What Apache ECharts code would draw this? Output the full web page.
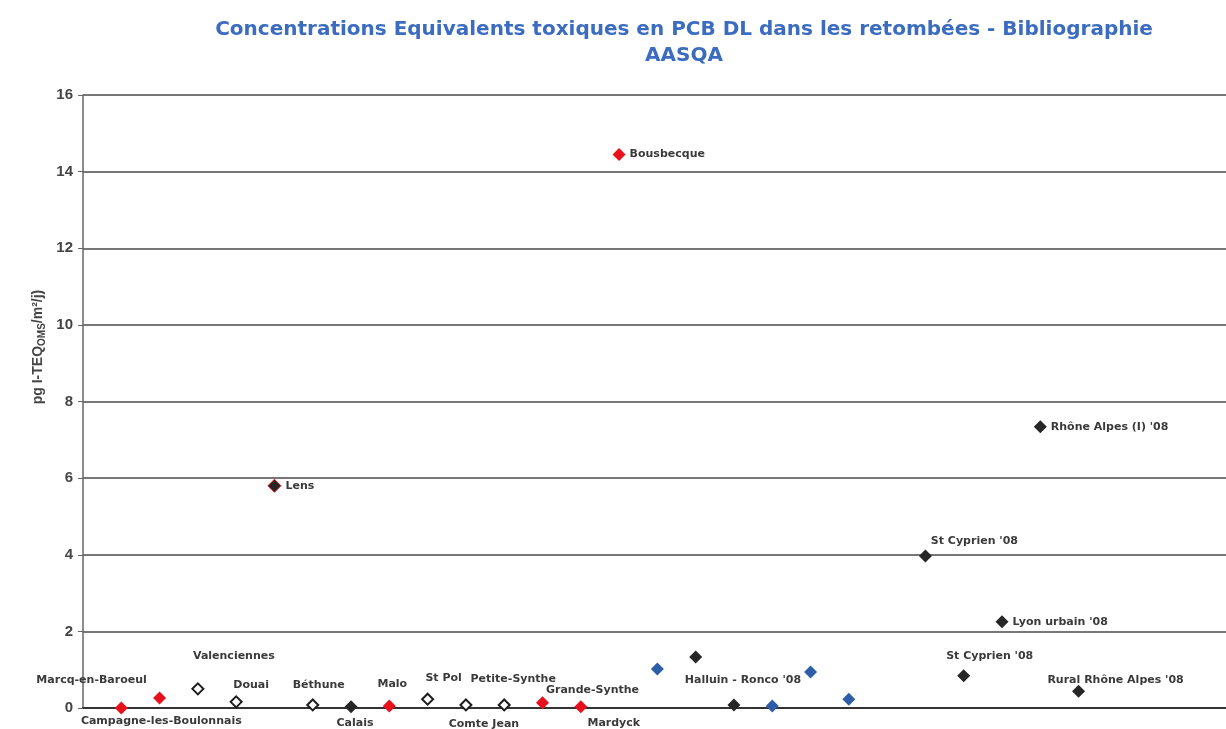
<!DOCTYPE html>
<html>
<head>
<meta charset="utf-8">
<script src="https://cdn.jsdelivr.net/npm/echarts@6/dist/echarts.min.js"></script>
<style>
  html, body { margin: 0; padding: 0; background: #fff; }
  #chart { width: 1226px; height: 729px; }
</style>
</head>
<body>
<div id="chart"></div>
<script>
// sites, in the order of the x slots ('' = empty slot)
const sites = ['Campagne-les-Boulonnais', 'Marcq-en-Baroeul', 'Valenciennes', 'Douai', 'Lens', 'Béthune',
  'Calais', 'Malo', 'St Pol', 'Comte Jean', 'Petite-Synthe', 'Grande-Synthe', 'Mardyck', 'Bousbecque',
  '', '', "Halluin - Ronco '08", '', '', '', '', "St Cyprien '08", "St Cyprien '08", "Lyon urbain '08",
  "Rhône Alpes (I) '08", "Rural Rhône Alpes '08"];
// pg I-TEQ OMS / m2 / j
const values = [0.0, 0.26, 0.5, 0.16, 5.8, 0.08, 0.03, 0.05, 0.23, 0.08, 0.08, 0.14, 0.03, 14.45,
  1.02, 1.33, 0.08, 0.05, 0.94, 0.23, null, 3.97, 0.84, 2.25, 7.34, 0.44];
// marker group of each point
const groups = ['red', 'red', 'open', 'open', 'dark', 'open', 'dark', 'red', 'open', 'open', 'open', 'red', 'red', 'red',
  'blue', 'dark', 'dark', 'blue', 'blue', 'blue', '', 'dark', 'dark', 'dark', 'dark', 'dark'];
const yTicks = [0, 16, 2];

// where each label sits relative to its marker (null = right of marker)
const labelOffset = [[40, 13], [-68, -18], [36, -33], [15, -17], null, [6, -20], [4, 16], [3, -22], [16, -21],
  [18, 19], [9, -26], [50, -12], [33, 16], null, [0, 0], [0, 0], [9, -25], [0, 0], [0, 0], [0, 0], [0, 0],
  [49, -15], [26, -20], null, null, [37, -11]];

const styles = {
  red: { color: '#e8101a', borderColor: '#e8101a', borderWidth: 0, opacity: 1 },
  open: { color: '#ffffff', borderColor: '#1e1e1e', borderWidth: 2, opacity: 1 },
  dark: { color: '#262626', borderColor: '#262626', borderWidth: 0, opacity: 1 },
  blue: { color: '#2f5ea8', borderColor: '#2f5ea8', borderWidth: 0, opacity: 1 }
};

function seriesFor(group) {
  const data = [];
  values.forEach(function (v, i) {
    if (groups[i] !== group || v === null) return;
    const off = labelOffset[i];
    let label;
    if (off === null) {
      label = { show: true, position: 'right', distance: 4 };
    } else {
      label = { show: true, position: 'inside', offset: off };
    }
    // slot number = position in the site list, slot 0 left blank
    const item = { value: [i + 1, v], name: sites[i], label: label };
    // Lens marker shows a red rim (overlapping point)
    if (sites[i] === 'Lens') item.itemStyle = { borderColor: '#e8101a', borderWidth: 1 };
    data.push(item);
  });
  return {
    type: 'scatter',
    symbol: 'diamond',
    symbolSize: group === 'open' ? 11 : 13,
    itemStyle: styles[group],
    label: {
      formatter: '{b}',
      color: '#3a3a3a',
      fontFamily: 'DejaVu Sans',
      fontWeight: 'bold',
      fontSize: 11
    },
    z: group === 'open' ? 3 : 2,
    data: data
  };
}

const chart = echarts.init(document.getElementById('chart'));
chart.setOption({
  animation: false,
  title: {
    text: 'Concentrations Equivalents toxiques en PCB DL dans les retombées - Bibliographie\nAASQA',
    left: 679,
    top: 12,
    textAlign: 'center',
    textStyle: {
      color: '#3b6cc0',
      fontFamily: 'DejaVu Sans',
      fontWeight: 'bold',
      fontSize: 20,
      lineHeight: 26
    }
  },
  grid: { left: 83, right: 0, top: 95, bottom: 21 },
  xAxis: {
    type: 'value',
    min: 0,
    max: 29.85,
    axisLine: { show: true, onZero: false, lineStyle: { color: '#333', width: 2 } },
    axisTick: { show: false },
    axisLabel: { show: false },
    splitLine: { show: false }
  },
  yAxis: {
    type: 'value',
    min: yTicks[0],
    max: yTicks[1],
    interval: yTicks[2],
    axisLine: { show: true, lineStyle: { color: '#666', width: 1.5 } },
    axisTick: { show: true, inside: false, length: 5, lineStyle: { color: '#666' } },
    axisLabel: {
      color: '#444',
      fontFamily: 'Liberation Sans',
      fontWeight: 'bold',
      fontSize: 15,
      margin: 10
    },
    splitLine: { show: true, lineStyle: { color: '#4a4a4a', width: 1.5 } }
  },
  graphic: [{
    type: 'text',
    x: 38,
    y: 347,
    rotation: Math.PI / 2,
    style: {
      text: 'pg I-TEQ{s|OMS}/m²/j)',
      fill: '#444',
      font: 'bold 14px "Liberation Sans"',
      align: 'center',
      verticalAlign: 'middle',
      rich: { s: { fontSize: 10, fontWeight: 'bold', fill: '#444', padding: [8, 0, 0, 0] } }
    }
  }],
  series: ['open', 'dark', 'blue', 'red'].map(seriesFor)
});
</script>
</body>
</html>
